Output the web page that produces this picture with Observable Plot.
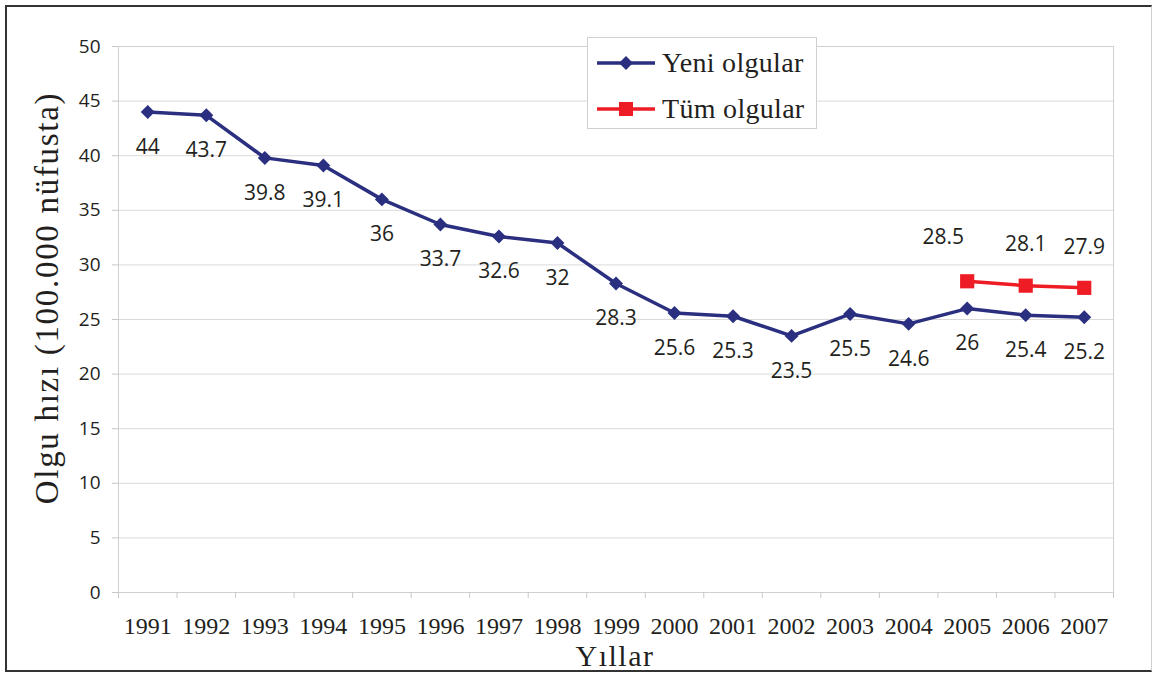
<!DOCTYPE html>
<html>
<head>
<meta charset="utf-8">
<script src="https://cdn.jsdelivr.net/npm/d3@7"></script>
<script src="https://cdn.jsdelivr.net/npm/@observablehq/plot@0.6"></script>
<style>
  html, body { margin: 0; padding: 0; background: #fff; }
  #wrap { position: relative; width: 1153px; height: 673px; overflow: hidden; }
  #frame { position: absolute; left: 5px; top: 5px; width: 1147px; height: 667px;
    border-left: 2px solid #333; border-top: 2px solid #333; border-bottom: 2px solid #333;
    border-right: 1px solid #cfcfcf; box-sizing: border-box; pointer-events: none; }
  #chart { position: absolute; left: 0; top: 0; }
  #legend { position: absolute; left: 587px; top: 37px; width: 230px; height: 92px;
    background: #fff; border: 1px solid #d0d0d0; box-sizing: border-box; }
  .item { position: absolute; left: 8px; height: 30px; display: flex; align-items: center;
    font-family: "Liberation Serif", "Times New Roman", serif; font-size: 28px; color: #231f20; letter-spacing: 0.3px; }
  .item svg { margin-right: 6px; }
  #ytitle { position: absolute; left: 47px; top: 298px; transform: translate(-50%, -50%) rotate(-90deg);
    white-space: nowrap; font-family: "Liberation Serif", "Times New Roman", serif; font-size: 33px;
    letter-spacing: 1.7px; color: #231f20; }
  #xtitle { position: absolute; left: 615px; top: 656px; transform: translate(-50%, -50%);
    white-space: nowrap; font-family: "Liberation Serif", "Times New Roman", serif; font-size: 30px;
    line-height: 26px; letter-spacing: 1.5px; color: #231f20; }
</style>
</head>
<body>
<div id="wrap">
  <div id="chart"></div>
  <div id="legend">
    <div class="item" style="top:10px"><svg width="60" height="20"><line x1="1" y1="10" x2="59" y2="10" stroke="#2b2f7f" stroke-width="3.5"/><path d="M30 3 L37 10 L30 17 L23 10 Z" fill="#2b2f7f"/></svg><span>Yeni olgular</span></div>
    <div class="item" style="top:56px"><svg width="60" height="20"><line x1="1" y1="10" x2="59" y2="10" stroke="#ee1c25" stroke-width="3.5"/><rect x="23" y="3" width="14" height="14" fill="#ee1c25"/></svg><span>Tüm olgular</span></div>
  </div>
  <div id="ytitle">Olgu hızı (100.000 nüfusta)</div>
  <div id="xtitle">Yıllar</div>
  <div id="frame"></div>
</div>
<script>
// ---- data ----
const years = [1991, 1992, 1993, 1994, 1995, 1996, 1997, 1998, 1999, 2000, 2001, 2002, 2003, 2004, 2005, 2006, 2007];
const yeniValues = [44, 43.7, 39.8, 39.1, 36, 33.7, 32.6, 32, 28.3, 25.6, 25.3, 23.5, 25.5, 24.6, 26, 25.4, 25.2];
const tumYears = [2005, 2006, 2007];
const tumValues = [28.5, 28.1, 27.9];
const yTicks = [0, 5, 10, 15, 20, 25, 30, 35, 40, 45, 50];

const yeni = years.map((year, i) => ({year, v: yeniValues[i]}));
const tum = tumYears.map((year, i) => ({year, v: tumValues[i]}));
const bandEdges = d3.range(years[0] - 0.5, years[years.length - 1] + 1, 1);

const navy = "#2b2f7f";
const red = "#ee1c25";
const sans = "'Open Sans', 'Noto Sans', sans-serif";
const serif = "'Liberation Serif', 'Times New Roman', serif";

const chart = Plot.plot({
  width: 1153,
  height: 673,
  marginLeft: 118,
  marginRight: 40,
  marginTop: 46,
  marginBottom: 81,
  x: {domain: [years[0] - 0.5, years[years.length - 1] + 0.5]},
  y: {domain: [0, 50]},
  style: {background: "transparent", color: "#231f20"},
  marks: [
    Plot.gridY(yTicks, {stroke: "#d9d9d9", strokeOpacity: 1, strokeWidth: 1}),
    Plot.frame({stroke: "#d0d0d0"}),
    Plot.axisY(yTicks, {tickSize: 6, tickPadding: 12, stroke: "#c8c8c8", fill: "#231f20",
      fontSize: 19, fontFamily: sans, label: null}),
    Plot.axisX(bandEdges, {tickSize: 6, tickFormat: () => "", stroke: "#c8c8c8", label: null}),
    Plot.axisX(years, {tickSize: 0, tickPadding: 24, tickFormat: d => String(d), fill: "#231f20",
      fontSize: 24, fontFamily: serif, label: null}),
    Plot.line(yeni, {x: "year", y: "v", stroke: navy, strokeWidth: 3.5}),
    Plot.dot(yeni, {x: "year", y: "v", symbol: "diamond2", r: 6.3, fill: navy, stroke: null}),
    Plot.line(tum, {x: "year", y: "v", stroke: red, strokeWidth: 3.5}),
    Plot.dot(tum, {x: "year", y: "v", symbol: "square", r: 8, fill: red, stroke: null}),
    Plot.text(yeni, {x: "year", y: "v", text: d => String(d.v), dy: 35, fontSize: 21,
      fontFamily: sans, fill: "#231f20"}),
    Plot.text(tum.filter(d => d.year !== 2005), {x: "year", y: "v", text: d => String(d.v), dy: -41,
      fontSize: 21, fontFamily: sans, fill: "#231f20"}),
    Plot.text(tum.filter(d => d.year === 2005), {x: "year", y: "v", text: d => String(d.v), dy: -44, dx: -24,
      fontSize: 21, fontFamily: sans, fill: "#231f20"})
  ]
});
document.getElementById("chart").appendChild(chart);
</script>
</body>
</html>
